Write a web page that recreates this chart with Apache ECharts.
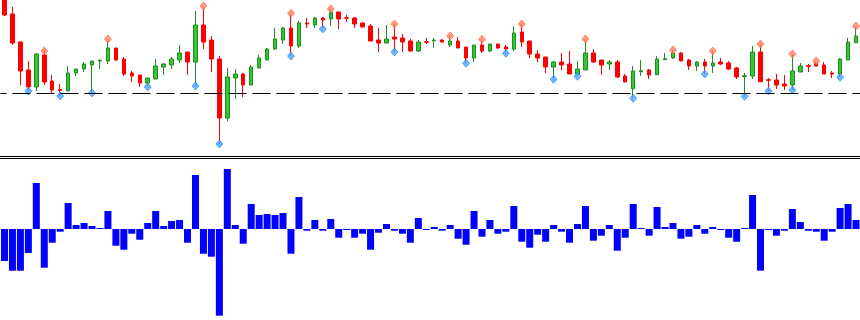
<!DOCTYPE html>
<html>
<head>
<meta charset="utf-8">
<script src="https://cdn.jsdelivr.net/npm/echarts@6/dist/echarts.min.js"></script>
<style>html,body{margin:0;padding:0;background:#fff;}#c{width:860px;height:320px;}</style>
</head>
<body>
<div id="c"></div>
<script>
const opens = [160,146,118,90,73,105,79,70.5,69,87,91,95,99,99,112,101,87,85,77,81,93,95,100,108,98,135,120,101,42,82,86,75,92,100,111,120,132,114,137,135,142,141,148,142.3,142,137,134,120,117,123,122,119,109,118.3,119.3,120,115,119,113,102,115,109,116,113,111,128,119,106,103,93,98,96,86,90,107,100,96,98,84,71.3,88.3,90,85.3,100.3,102,107,100,94,98,94,98,97,92,83.3,84,108,80.3,80,76,75,88,94.3,97,95,87,86,100,117.3];
const closes = [145,117,89,73,106,78,70,69.5,87,91,96,99,99.5,112,100,86,84,77,82,94,96,101,107,98,135,118,101,42,83,86,75,93,102,111,121,132,114,137,136,142,140,148,141,141.7,136,133,119,117,121,121,118,109,118,117.7,120,118,119,112,102,115,109,116,112,111,127,118,106,102,93,98,95,86,91,107,98,95,98,83,78,89,89.3,85,101,101.3,107,99,94,98,94,97,96,91,83,84.3,108,78.3,79.7,75,74,89,94,93.7,94,86,86,101,118,124];
const lows = [144,115,75,69,69,75,67,64,69,84,88,67,91,96,99,84,78,73,73,81,85,91,97,85,74,111,88,16,39,61,63,75,92,100,110,116,104,112,132,132,131,134,131,138,132,133,119,108,117,108,108,108.5,108,116,112.3,117,113,112,96.7,98,107,108,111,106.7,109,113,102,98,87,80.7,90,86,83.7,90,97,85,90,82,78,61.7,84,81,85,100,101,99,90,89,86,87,95,90,81,63.7,81,78,69,71,70,70,88,88,94,86,82,82.7,100,117];
const highs = [160,153,119,99,107,109,85,76,94,91,98,99,101,121,112,103,89,85,82,101,97,103,115,108,149,154,124,104,92,91,87,95,105,112,132,133,146.7,139,142,143,143,151,148,145,143,138,136,132,135,136,126,121,120,122,122,121,124,123,113,115,120.7,116,116,115,134,136,119,110,103,99,107,109,99,121,111,100,100,100,86,94,100,91,104,107,110,108,101,99,101,109,102,99,93,87,114,116,82,86,85,106,97,96,99,98,89,102,122,134];
const histogram = [-32,-41.7,-41.7,-24,46,-38.7,-13.7,-2.7,26,4,6,3,1,18,-16.7,-20.7,-4.7,-10.7,6,18,3,8,9,-13.7,54,-24.7,-27.7,-86.7,
60,4,-14.7,25,14,15,14,16,-24.7,32,-1.7,9,-1.7,10,-8.7,-0.7,-8.7,-4.7,-20.7,-3.7,5,-1.7,-4.7,-13.7,11,-0.7,
2,-1.7,4,-9.7,-15.7,18,-7.7,9,-4.7,-2.7,23,-12.7,-18.7,-5.7,-12.7,4,-2.7,-13.7,5,23,-11.7,-6.7,4,-21.7,-8.7,25,
1,-6.7,22,2,6,-9.7,-7.7,4,-4.7,2,-0.7,-8.7,-12.7,1,34,-41.7,-0.7,-6.7,-1.7,20,7,-1.7,-2.7,-11.7,-2.7,21,25,9];
const upFractals = [5,13,25,36,41,49,56,60,65,73,84,89,95,99,102,107];
const downFractals = [3,7,11,18,24,27,36,40,49,58,63,69,72,79,88,93,96,99,105];
const levelPrice = 66.5;

const categories = opens.map((_, i) => String(i));
const candleData = opens.map((o, i) => [o, closes[i], lows[i], highs[i]]);
const upData = upFractals.map(i => [String(i), highs[i]]);
const downData = downFractals.map(i => [String(i), lows[i]]);

const chart = echarts.init(document.getElementById('c'), null, {renderer: 'canvas'});
chart.setOption({
  animation: false,
  backgroundColor: '#ffffff',
  grid: [
    {left: 0.5, top: 0, width: 864, height: 155},
    {left: 0.5, top: 160, width: 864, height: 160}
  ],
  xAxis: [
    {type: 'category', data: categories, gridIndex: 0, boundaryGap: true, show: false},
    {type: 'category', data: categories, gridIndex: 1, boundaryGap: true, show: false}
  ],
  yAxis: [
    {type: 'value', gridIndex: 0, min: 5, max: 160, show: false, splitLine: {show: false}},
    {type: 'value', gridIndex: 1, min: -91, max: 69, show: false, splitLine: {show: false}}
  ],
  graphic: [
    {type: 'line', shape: {x1: 0, y1: 156.5, x2: 860, y2: 156.5}, style: {stroke: '#000', lineWidth: 1}, silent: true},
    {type: 'line', shape: {x1: 0, y1: 158.5, x2: 860, y2: 158.5}, style: {stroke: '#000', lineWidth: 1}, silent: true}
  ],
  series: [
    {
      type: 'candlestick',
      xAxisIndex: 0, yAxisIndex: 0,
      data: candleData,
      barWidth: 4,
      itemStyle: {
        color: '#32C832', borderColor: '#1E8C1E',
        color0: '#FF0000', borderColor0: '#FF0000',
        borderWidth: 1
      },
      markLine: {
        silent: true,
        symbol: 'none',
        label: {show: false},
        lineStyle: {color: '#000', width: 1, type: [18, 6], dashOffset: 12},
        data: [{yAxis: levelPrice}]
      }
    },
    {
      type: 'scatter', xAxisIndex: 0, yAxisIndex: 0,
      data: upData, symbol: 'diamond', symbolSize: [7, 8],
      itemStyle: {color: '#FF8266', borderColor: '#FF6030', borderWidth: 0.8}
    },
    {
      type: 'scatter', xAxisIndex: 0, yAxisIndex: 0,
      data: downData, symbol: 'diamond', symbolSize: [7, 8],
      itemStyle: {color: '#4AA4FF', borderColor: '#1E88FF', borderWidth: 0.8}
    },
    {
      type: 'bar', xAxisIndex: 1, yAxisIndex: 1,
      data: histogram, barWidth: 7, barMinHeight: 1,
      itemStyle: {color: '#0000FF'}
    }
  ]
});
</script>
</body>
</html>
